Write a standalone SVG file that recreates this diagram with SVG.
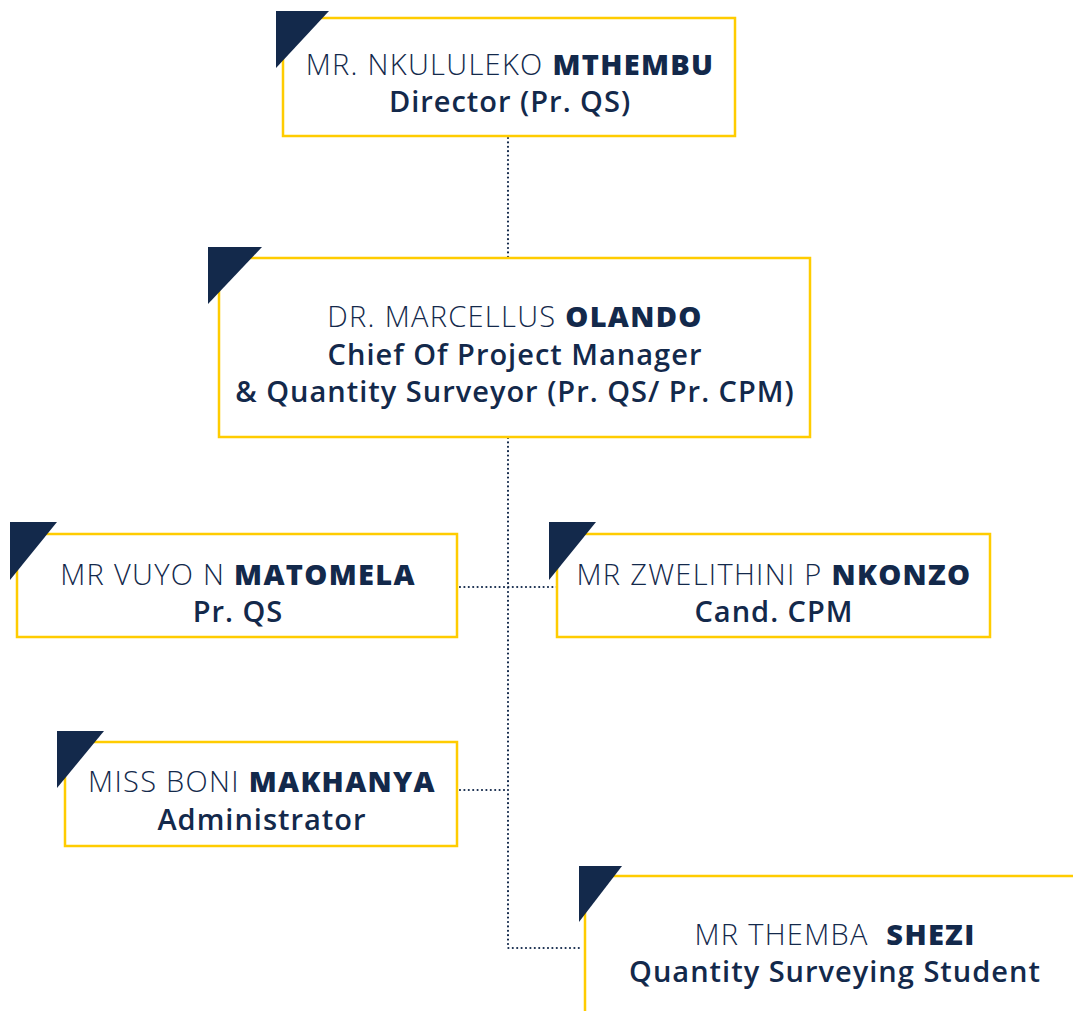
<svg xmlns="http://www.w3.org/2000/svg" width="1073" height="1011" viewBox="0 0 1073 1011">
<style>
.box{fill:#fff;stroke:#FFCC00;stroke-width:2.5}
.tri{fill:#13294B}
.conn{fill:none;stroke:#13294B;stroke-width:2.2;stroke-linecap:round;stroke-dasharray:0 4.4}
text{font-family:"Open Sans","Liberation Sans",sans-serif;fill:#13294B;text-anchor:middle;font-size:29px;letter-spacing:1.3px}
.l{font-weight:300}
.b{font-weight:800}
.m{font-weight:600;letter-spacing:1px}
</style>
<rect width="1073" height="1011" fill="#fff"/>
<g id="connectors">
<path class="conn" d="M508 138 V258"/>
<path class="conn" d="M508 438 V948 H580"/>
<path class="conn" d="M460 587 H557"/>
<path class="conn" d="M460 790 H508"/>
</g>
<g id="node-mthembu">
<rect class="box" x="283" y="18" width="452" height="118"/>
<polygon class="tri" points="276,11 329,11 276,68"/>
<text x="510" y="75"><tspan class="l">MR. NKULULEKO </tspan><tspan class="b">MTHEMBU</tspan></text>
<text class="m" x="510" y="112">Director (Pr. QS)</text>
</g>
<g id="node-olando">
<rect class="box" x="219" y="258" width="591" height="179"/>
<polygon class="tri" points="208,247 262,247 208,304"/>
<text x="515" y="327"><tspan class="l">DR. MARCELLUS </tspan><tspan class="b">OLANDO</tspan></text>
<text class="m" x="515" y="365">Chief Of Project Manager</text>
<text class="m" x="515" y="402">&amp; Quantity Surveyor (Pr. QS/ Pr. CPM)</text>
</g>
<g id="node-matomela">
<rect class="box" x="17" y="534" width="440" height="103"/>
<polygon class="tri" points="10,522 57,522 10,580"/>
<text x="238" y="585"><tspan class="l">MR VUYO N </tspan><tspan class="b">MATOMELA</tspan></text>
<text class="m" x="238" y="622">Pr. QS</text>
</g>
<g id="node-nkonzo">
<rect class="box" x="557" y="534" width="433" height="103"/>
<polygon class="tri" points="549,522 596,522 549,580"/>
<text x="774" y="585"><tspan class="l">MR ZWELITHINI P </tspan><tspan class="b">NKONZO</tspan></text>
<text class="m" x="774" y="622">Cand. CPM</text>
</g>
<g id="node-makhanya">
<rect class="box" x="65" y="742" width="392" height="104"/>
<polygon class="tri" points="57,731 104,731 57,788"/>
<text x="262" y="792"><tspan class="l">MISS BONI </tspan><tspan class="b">MAKHANYA</tspan></text>
<text class="m" x="262" y="830">Administrator</text>
</g>
<g id="node-shezi">
<rect class="box" x="585" y="876" width="520" height="200"/>
<polygon class="tri" points="579,866 622,866 579,922"/>
<text x="835" y="945"><tspan class="l">MR THEMBA&#160; </tspan><tspan class="b">SHEZI</tspan></text>
<text class="m" x="835" y="982">Quantity Surveying Student</text>
</g>
</svg>
